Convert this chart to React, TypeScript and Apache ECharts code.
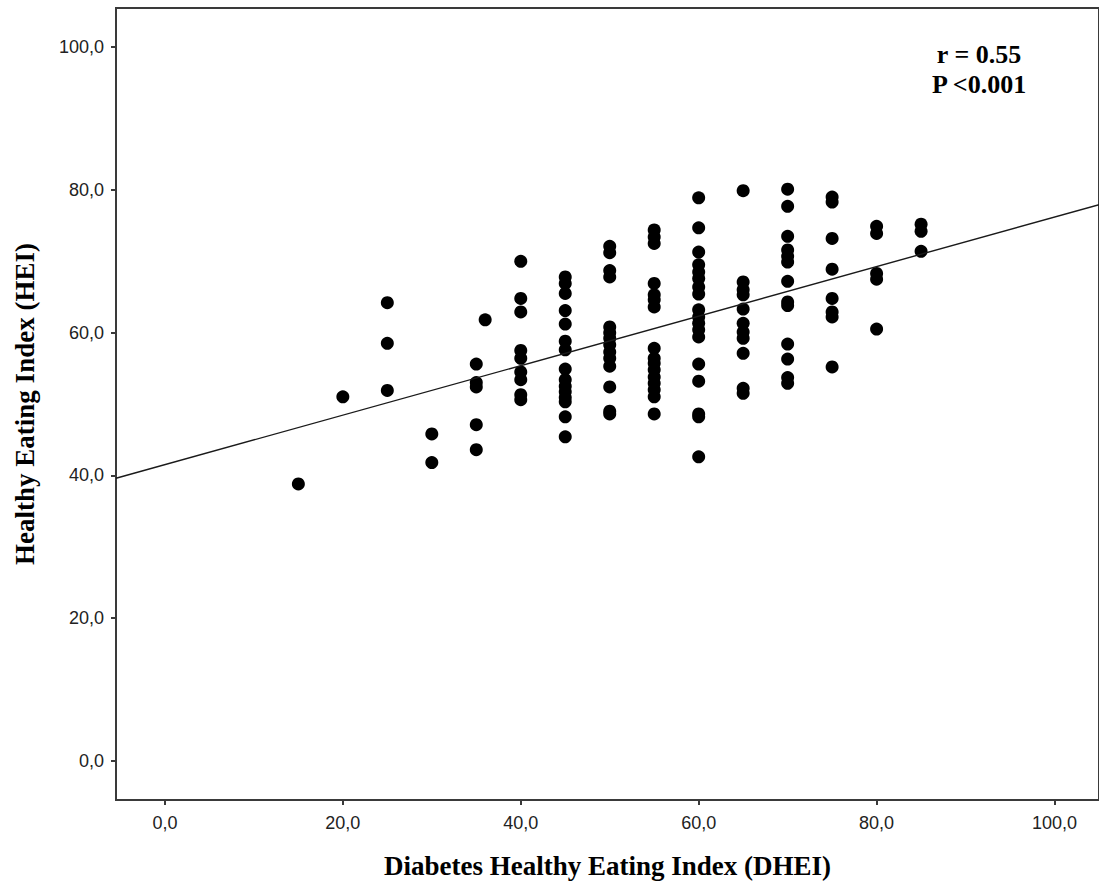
import React, { useEffect, useRef } from "react";
import * as echarts from "echarts";

// DHEI score levels (x) and HEI values (y) observed at each level
const hei15 = [38.8];
const hei20 = [51.0];
const hei25 = [64.2, 58.5, 51.9];
const hei30 = [45.8, 41.8];
const hei35 = [55.6, 53.0, 52.4, 47.1, 43.6];
const hei36 = [61.8];
const hei40 = [70.0, 64.8, 62.9, 57.5, 56.4, 54.5, 53.4, 51.3, 50.6];
const hei45 = [67.8, 66.9, 65.5, 63.1, 61.2, 58.8, 57.6, 54.9, 53.4, 52.5, 51.7, 50.9, 50.3, 48.2, 45.4];
const hei50 = [72.1, 71.2, 68.7, 67.8, 60.8, 60.0, 59.2, 58.3, 57.3, 56.4, 55.3, 52.4, 49.0, 48.6];
const hei55 = [74.4, 73.4, 72.5, 66.9, 65.3, 64.6, 63.6, 57.8, 56.4, 55.7, 54.8, 53.8, 52.9, 52.0, 51.0, 48.6];
const hei60 = [78.9, 74.7, 71.3, 69.5, 68.5, 67.6, 66.4, 65.4, 63.2, 62.2, 61.3, 60.4, 59.4, 55.6, 53.2, 48.6, 48.2, 42.6];
const hei65 = [79.9, 67.1, 66.0, 65.3, 63.3, 61.3, 60.1, 59.2, 57.1, 52.2, 51.5];
const hei70 = [80.1, 77.7, 73.5, 71.6, 70.7, 69.9, 67.2, 64.3, 63.8, 58.4, 56.3, 53.7, 52.9];
const hei75 = [79.0, 78.3, 73.2, 68.9, 64.8, 62.9, 62.2, 55.2];
const hei80 = [74.9, 73.9, 68.3, 67.5, 60.5];
const hei85 = [75.2, 74.2, 71.4];

const DHEI_LEVELS = [15, 20, 25, 30, 35, 36, 40, 45, 50, 55, 60, 65, 70, 75, 80, 85];
const HEI_BY_LEVEL = [hei15, hei20, hei25, hei30, hei35, hei36, hei40, hei45, hei50, hei55, hei60, hei65, hei70, hei75, hei80, hei85];

// Fit line (as drawn in the figure)
const LINE_INTERCEPT = 41.5;
const LINE_SLOPE = 0.347;

const TICKS = [0, 20, 40, 60, 80, 100];
const X_MIN = -5.5;
const X_MAX = 105;
const Y_MIN = -5.5;
const Y_MAX = 105.5;

const ANNOTATION = ["r = 0.55", "P <0.001"];

export default function App() {
  const ref = useRef<HTMLDivElement>(null);

  useEffect(() => {
    if (!ref.current) return;
    const chart = echarts.init(ref.current, undefined, { renderer: "svg" });

    const points: number[][] = [];
    DHEI_LEVELS.forEach((x, i) => {
      HEI_BY_LEVEL[i].forEach((y) => points.push([x, y]));
    });

    const linePts = [
      [X_MIN, LINE_INTERCEPT + LINE_SLOPE * X_MIN],
      [X_MAX, LINE_INTERCEPT + LINE_SLOPE * X_MAX],
    ];

    const fmt = (v: number) => v.toFixed(1).replace(".", ",");
    const axisColor = "#3a3a3a";
    const labelFont = {
      color: "#222",
      fontFamily: "Liberation Sans, Arial, sans-serif",
      fontSize: 18,
    };
    const nameFont = {
      color: "#000",
      fontFamily: "Liberation Serif, Times New Roman, serif",
      fontWeight: "bold" as const,
      fontSize: 27,
    };

    chart.setOption({
      animation: false,
      backgroundColor: "#fff",
      grid: {
        left: 116,
        top: 8,
        width: 984,
        height: 792,
        show: true,
        borderColor: axisColor,
        borderWidth: 2,
        backgroundColor: "transparent",
      },
      xAxis: {
        type: "value",
        min: X_MIN,
        max: X_MAX,
        name: "Diabetes Healthy Eating Index (DHEI)",
        nameLocation: "middle",
        nameGap: 52,
        nameTextStyle: nameFont,
        axisLine: { show: true, onZero: false, lineStyle: { color: axisColor, width: 2 } },
        axisTick: {
          show: true,
          customValues: TICKS,
          length: 5,
          inside: false,
          lineStyle: { color: axisColor, width: 2 },
        },
        axisLabel: {
          customValues: TICKS,
          formatter: fmt,
          margin: 14,
          ...labelFont,
        },
        splitLine: { show: false },
      },
      yAxis: {
        type: "value",
        min: Y_MIN,
        max: Y_MAX,
        name: "Healthy Eating Index (HEI)",
        nameLocation: "middle",
        nameGap: 78,
        nameTextStyle: nameFont,
        axisLine: { show: true, onZero: false, lineStyle: { color: axisColor, width: 2 } },
        axisTick: {
          show: true,
          customValues: TICKS,
          length: 5,
          inside: false,
          lineStyle: { color: axisColor, width: 2 },
        },
        axisLabel: {
          customValues: TICKS,
          formatter: fmt,
          margin: 12,
          ...labelFont,
        },
        splitLine: { show: false },
      },
      graphic: ANNOTATION.map((t, i) => ({
        type: "text",
        x: 979,
        y: 54 + i * 30,
        style: {
          text: t,
          font: 'bold 26px "Liberation Serif", "Times New Roman", serif',
          fill: "#000",
          textAlign: "center",
          textVerticalAlign: "middle",
        },
        z: 10,
      })),
      series: [
        {
          type: "line",
          data: linePts,
          showSymbol: false,
          symbol: "none",
          lineStyle: { color: "#1a1a1a", width: 1.4 },
          silent: true,
          z: 3,
        },
        {
          type: "scatter",
          data: points,
          symbol: "circle",
          symbolSize: 13,
          itemStyle: { color: "#000", opacity: 1 },
          z: 2,
        },
      ],
    });

    return () => chart.dispose();
  }, []);

  return (
    <div
      ref={ref}
      style={{ position: "fixed", left: 0, top: 0, width: 1099, height: 888, background: "#fff" }}
    />
  );
}
